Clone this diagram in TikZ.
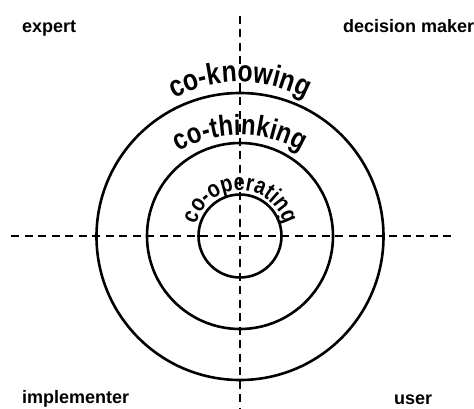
\documentclass[tikz,border=0pt]{standalone}
\usepackage{fontspec}
\setmainfont{Liberation Sans}
\newfontfamily\archfont{Liberation Sans Bold}[FakeStretch=0.82]
\usetikzlibrary{decorations.text}
\begin{document}
\begin{tikzpicture}[x=1pt,y=1pt,
  ring/.style={line width=2.6pt},
  axisline/.style={line width=2pt, dash pattern=on 8pt off 5.5pt},
  role/.style={anchor=base west, inner sep=0pt, font=\bfseries\fontsize{18}{22}\selectfont}]
\useasboundingbox (0,0) rectangle (474,408);
\coordinate (O) at (240,172);
\coordinate (L) at (11,172);
\coordinate (R) at (451,172);
\coordinate (T) at (240,392);
\coordinate (B) at (240,0);
\draw[axisline] (L) -- (R);
\draw[axisline] (T) -- (B);
\draw[ring] (O) circle[radius=41.5pt];
\draw[ring] (O) circle[radius=93pt];
\draw[ring] ([yshift=-0.5pt]O) circle[radius=143.5pt];
\node[role] (expert) at (22,375) {expert};
\node[role] (dm) at (343,375) {decision maker};
\node[role] (impl) at (22,5) {implementer};
\node[role] (user) at (394,4) {user};
\path[decorate, decoration={text along path, text align=center,
  text={|\archfont\fontsize{30}{34}\selectfont|co-knowing}}]
  (240,186) ++(130:140pt) arc[start angle=130, end angle=50, radius=140pt];
\path[decorate, decoration={text along path, text align=center,
  text={|\archfont\fontsize{29}{33}\selectfont|co-thinking}}]
  (240,153) ++(135:120pt) arc[start angle=135, end angle=45, radius=120pt];
\path[decorate, decoration={text along path, text align=center,
  text={|\archfont\fontsize{24}{28}\selectfont|co-operating}}]
  (O) ++(178:45.5pt) arc[start angle=178, end angle=2, radius=45.5pt];
\end{tikzpicture}
\end{document}
